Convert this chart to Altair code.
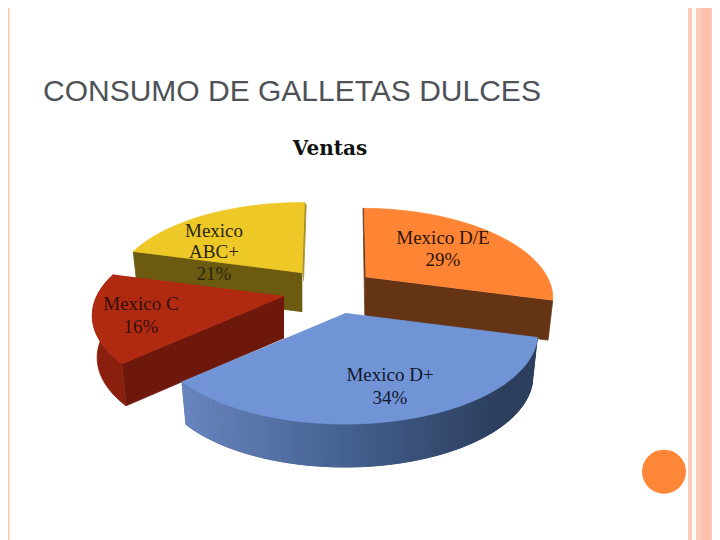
import math
import altair as alt
import pandas as pd

# ---- chart values
shares = {"Mexico D+": 34, "Mexico C": 16, "Mexico ABC+": 21, "Mexico D/E": 29}
clock_order = ["Mexico D+", "Mexico C", "Mexico ABC+", "Mexico D/E"]
start_deg = 15.3
tips = {"Mexico D+": (345, 313.3), "Mexico C": (284, 296),
        "Mexico ABC+": (302.3, 272.7), "Mexico D/E": (366, 277.3)}
radius = {"Mexico D+": 1.0, "Mexico C": 0.995, "Mexico ABC+": 0.985, "Mexico D/E": 0.965}
shear = {"Mexico D+": 0.0, "Mexico C": 0.0, "Mexico ABC+": 0.0, "Mexico D/E": 0.06}
depth = {"Mexico D+": 43.0, "Mexico C": 42.0, "Mexico ABC+": 39.0, "Mexico D/E": 39.5}
top_colors = {"Mexico D+": "#7094d6", "Mexico C": "#b02a12",
              "Mexico ABC+": "#edc826", "Mexico D/E": "#ff8535"}
side_colors = {"Mexico D+": "#3f5a85", "Mexico C": "#6e180c",
               "Mexico ABC+": "#6b5a10", "Mexico D/E": "#653415"}
wall_stops = [(185, (104, 133, 190)), (350, (68, 96, 143)), (500, (44, 62, 92)), (560, (44, 62, 92))]

label_lines = ["Mexico", "ABC+", "21%", "Mexico C", "16%", "Mexico D/E", "29%", "Mexico D+", "34%"]
label_x = [214, 214, 214, 141, 141, 443, 443, 390, 390]
label_y = [231, 252, 274, 304, 327, 238, 260, 375, 398]
label_color = ["#2a2510", "#2a2510", "#2a2510", "#35100a", "#35100a", "#2b1508", "#2b1508", "#10182c", "#10182c"]

bar_x1 = [8, 688, 696, 702.4, 703, 710]
bar_x2 = [9.5, 692, 702.4, 703, 710, 712]
bar_col = ["#fcc7b4", "#fdc9b8", "#fdc9b8", "#e9a488", "#fcc0ab", "#fec9b7"]

A, B, K, SHRINK = 188.0, 86.5, 0.2185, 0.975


def project(name, deg):
    t = math.radians(deg)
    r = radius[name]
    X, Y = r * math.cos(t), r * math.sin(t)
    d = 1 - K * Y
    dy = B * Y / d
    return tips[name][0] + A * X / d + shear[name] * dy, tips[name][1] + dy


def lower(name, p):
    tx = tips[name][0]
    return tx + (p[0] - tx) * SHRINK, p[1] + depth[name]


def wall_color(x):
    for (x0, c0), (x1, c1) in zip(wall_stops, wall_stops[1:]):
        if x <= x1:
            f = max(0, (x - x0) / (x1 - x0))
            return "#%02x%02x%02x" % tuple(round(a + (b - a) * f) for a, b in zip(c0, c1))
    return "#2c3e5c"


spans = {}
a = start_deg
for n in clock_order:
    spans[n] = (a, a + shares[n] * 3.6)
    a += shares[n] * 3.6

rows = []
pid = [0]


def piece(pts, color):
    pid[0] += 1
    for i, (x, y) in enumerate(pts):
        rows.append({"piece": f"{pid[0]:04d}", "i": i, "x": x, "y": y, "c": color})


for n in ["Mexico ABC+", "Mexico C", "Mexico D/E", "Mexico D+"]:
    a0, a1 = spans[n]
    tip = tips[n]
    steps = max(8, int((a1 - a0) / 1.5))
    arc = [project(n, a0 + (a1 - a0) * j / steps) for j in range(steps + 1)]
    tipb = lower(n, tip)
    if n == "Mexico D/E":
        piece([tip, arc[0], (arc[0][0] - 1.2, arc[0][1]), (tip[0] - 1.2, tip[1] + 38), (tip[0], tip[1] + 38)], "#6b3a18")
        piece([tip, arc[-1], lower(n, arc[-1]), tipb], side_colors[n])
    elif n == "Mexico ABC+":
        piece([tip, arc[0], lower(n, arc[0]), tipb], side_colors[n])
        piece([tip, arc[-1], (arc[-1][0] + 1.5, arc[-1][1] + 3), (tip[0] + 1.2, tip[1] + 8)], "#a8902a")
    elif n == "Mexico C":
        piece([tip, arc[0], lower(n, arc[0]), tipb], side_colors[n])
    if n == "Mexico D+":
        piece(arc + [lower(n, p) for p in reversed(arc)], "#44608f")
        for p, q in zip(arc, arc[1:]):
            piece([p, q, lower(n, q), lower(n, p)], wall_color((p[0] + q[0]) / 2))
    elif n == "Mexico C":
        piece(arc + [lower(n, p) for p in reversed(arc)], "#8a1f0e")
    piece([tip] + arc, top_colors[n])

shape_df = pd.DataFrame(rows)

xs = alt.Scale(domain=[8, 712], nice=False, zero=False)
ys = alt.Scale(domain=[540, 8], nice=False, zero=False)
X = lambda f: alt.X(f, type="quantitative", scale=xs, axis=None)
Y = lambda f: alt.Y(f, type="quantitative", scale=ys, axis=None)

bars = alt.Chart(pd.DataFrame({"x": bar_x1, "x2": bar_x2, "c": bar_col, "y": [8] * 6, "y2": [540] * 6})).mark_rect().encode(
    x=X("x"), x2="x2", y=Y("y"), y2="y2", color=alt.Color("c:N", scale=None))

dot = alt.Chart(pd.DataFrame({"x": [664], "y": [471.7]})).mark_circle(size=1936, color="#fe8637", opacity=1).encode(
    x=X("x"), y=Y("y"))

pie = alt.Chart(shape_df).mark_line(strokeWidth=0.8).encode(
    x=X("x"), y=Y("y"), detail="piece:N", order="i:Q",
    fill=alt.Fill("c:N", scale=None), stroke=alt.Stroke("c:N", scale=None))

labels = alt.Chart(pd.DataFrame({"t": label_lines, "x": label_x, "y": label_y, "c": label_color})).mark_text(
    font="Liberation Serif", fontSize=19).encode(
    x=X("x"), y=Y("y"), text="t:N", color=alt.Color("c:N", scale=None))

subtitle = alt.Chart(pd.DataFrame({"t": ["Ventas"], "x": [330], "y": [149]})).mark_text(
    font="DejaVu Serif", fontSize=20, fontWeight="bold", color="#111111").encode(
    x=X("x"), y=Y("y"), text="t:N")

title = alt.Chart(pd.DataFrame({"t": ["CONSUMO DE GALLETAS DULCES"], "x": [43], "y": [92]})).mark_text(
    font="Liberation Sans", fontSize=30, align="left", color="#4e5257").encode(
    x=X("x"), y=Y("y"), text="t:N")

chart = alt.layer(bars, dot, pie, labels, subtitle, title).properties(
    width=704, height=532, padding=0, autosize=alt.AutoSizeParams(type="none")
).configure_view(stroke=None)

chart.save("out.html", embed_options={"renderer": "svg", "actions": False})
